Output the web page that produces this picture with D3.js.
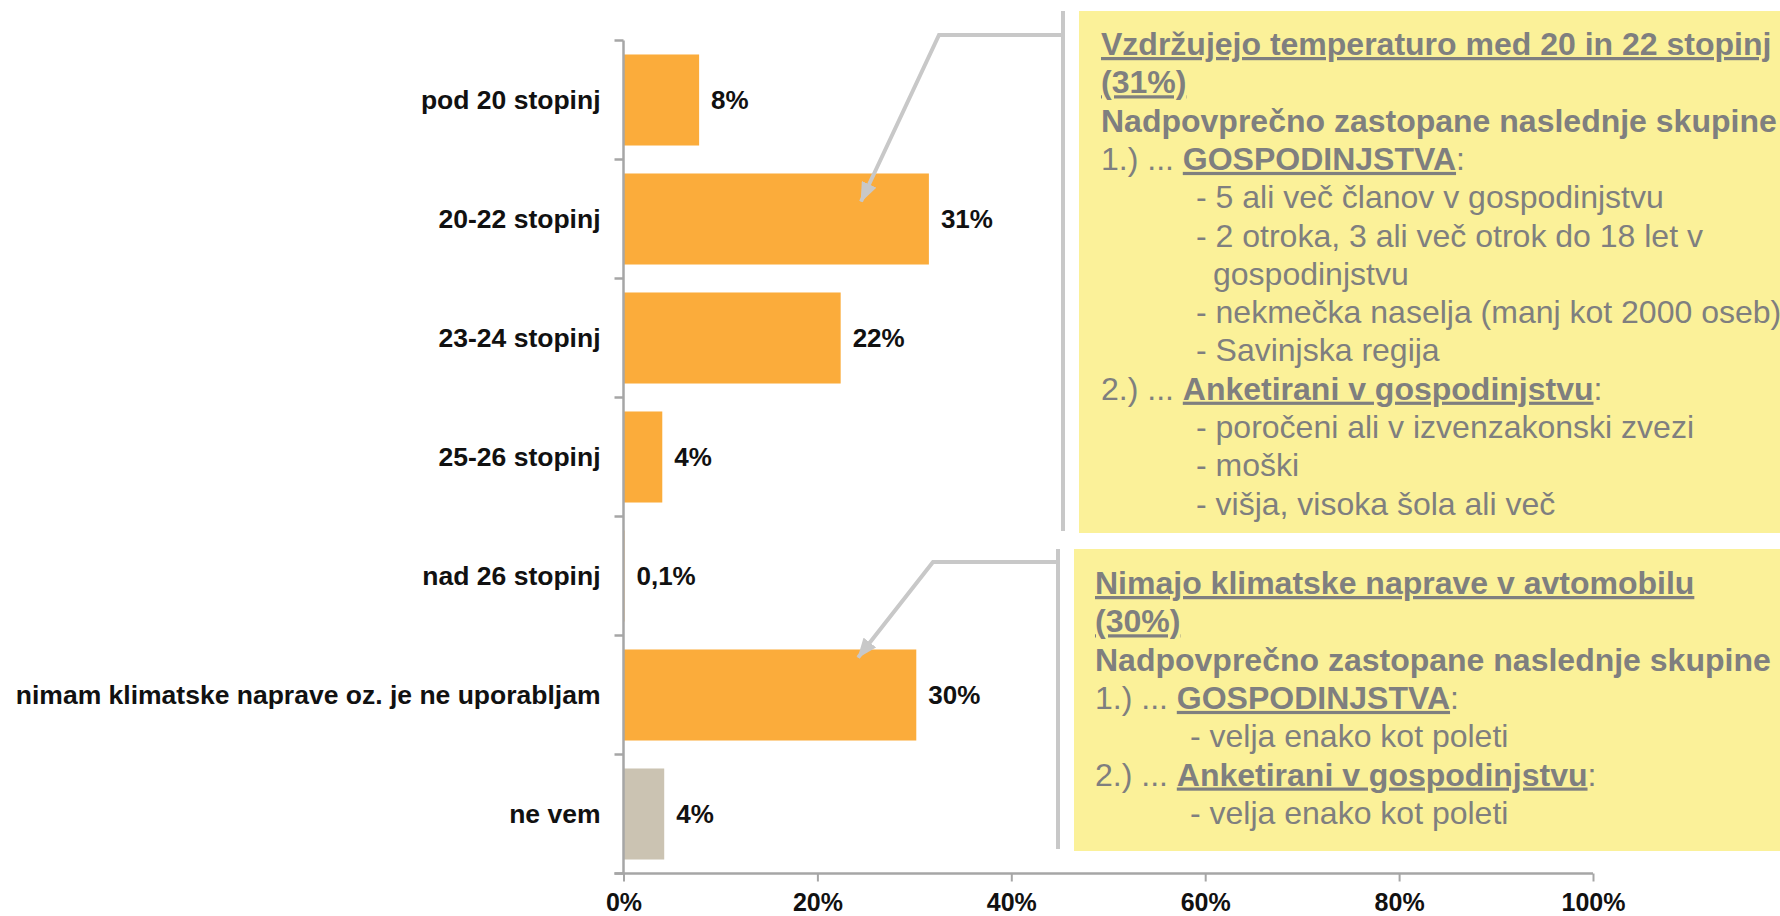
<!DOCTYPE html>
<html>
<head>
<meta charset="utf-8">
<script src="https://cdn.jsdelivr.net/npm/d3@7"></script>
<style>
  body { margin: 0; background: #fff; }
  text { font-family: "Liberation Sans", Arial, sans-serif; }
</style>
</head>
<body>
<script>
// chart data
const categories = ["pod 20 stopinj", "20-22 stopinj", "23-24 stopinj", "25-26 stopinj",
  "nad 26 stopinj", "nimam klimatske naprave oz. je ne uporabljam", "ne vem"];
const values = [7.8, 31.5, 22.4, 4.0, 0.1, 30.2, 4.2];
const valueLabels = ["8%", "31%", "22%", "4%", "0,1%", "30%", "4%"];
const tickValues = [0, 20, 40, 60, 80, 100];
const tickLabels = ["0%", "20%", "40%", "60%", "80%", "100%"];

// callout texts: [segment, kind]  kind: r = regular, b = bold, bu = bold underlined
const upperLines = [
  [0, [["Vzdržujejo temperaturo med 20 in 22 stopinj", "bu"]]],
  [0, [["(31%)", "bu"]]],
  [0, [["Nadpovprečno zastopane naslednje skupine", "b"]]],
  [0, [["1.) ... ", "r"], ["GOSPODINJSTVA", "bu"], [":", "r"]]],
  [1, [["- 5 ali več članov v gospodinjstvu", "r"]]],
  [1, [["- 2 otroka, 3 ali več otrok do 18 let v", "r"]]],
  [2, [["gospodinjstvu", "r"]]],
  [1, [["- nekmečka naselja (manj kot 2000 oseb)", "r"]]],
  [1, [["- Savinjska regija", "r"]]],
  [0, [["2.) ... ", "r"], ["Anketirani v gospodinjstvu", "bu"], [":", "r"]]],
  [1, [["- poročeni ali v izvenzakonski zvezi", "r"]]],
  [1, [["- moški", "r"]]],
  [1, [["- višja, visoka šola ali več", "r"]]]
];
const lowerLines = [
  [0, [["Nimajo klimatske naprave v avtomobilu", "bu"]]],
  [0, [["(30%)", "bu"]]],
  [0, [["Nadpovprečno zastopane naslednje skupine", "b"]]],
  [0, [["1.) ... ", "r"], ["GOSPODINJSTVA", "bu"], [":", "r"]]],
  [1, [["- velja enako kot poleti", "r"]]],
  [0, [["2.) ... ", "r"], ["Anketirani v gospodinjstvu", "bu"], [":", "r"]]],
  [1, [["- velja enako kot poleti", "r"]]]
];

const W = 1780, H = 916;
const axisColor = "#a6a6a6";
const calloutGrey = "#c8c8c8";

const svg = d3.select("body").append("svg")
    .attr("width", W)
    .attr("height", H);

const x = d3.scaleLinear().domain([0, 100]).range([623.5, 1593]);
const y = d3.scaleBand().domain(categories)
    .range([40.5, 873.5])
    .paddingInner(0.235)
    .paddingOuter(0.1175);

// bars
svg.append("g").selectAll("rect")
    .data(categories)
    .join("rect")
    .attr("x", x(0))
    .attr("y", d => y(d))
    .attr("width", (d, i) => x(values[i]) - x(0))
    .attr("height", y.bandwidth())
    .attr("fill", d => d === "ne vem" ? "#cbc3b2" : "#fbac3b");

// y axis line + band boundary ticks
const yAxis = svg.append("g");
yAxis.append("line")
    .attr("x1", x(0)).attr("x2", x(0))
    .attr("y1", y.range()[0]).attr("y2", y.range()[1])
    .attr("stroke", axisColor).attr("stroke-width", 2.5);
yAxis.selectAll("line.tick")
    .data(d3.range(categories.length + 1))
    .join("line")
    .attr("class", "tick")
    .attr("x1", x(0) - 9).attr("x2", x(0))
    .attr("y1", i => y.range()[0] + i * y.step())
    .attr("y2", i => y.range()[0] + i * y.step())
    .attr("stroke", axisColor).attr("stroke-width", 2.5);

// category labels
svg.append("g").selectAll("text")
    .data(categories)
    .join("text")
    .attr("x", x(0) - 23)
    .attr("y", d => y(d) + y.bandwidth() / 2 + 9)
    .attr("text-anchor", "end")
    .attr("font-size", 26.5)
    .attr("font-weight", "bold")
    .attr("fill", "#111")
    .text(d => d);

// value labels
svg.append("g").selectAll("text")
    .data(categories)
    .join("text")
    .attr("x", (d, i) => x(values[i]) + 12)
    .attr("y", d => y(d) + y.bandwidth() / 2 + 9)
    .attr("font-size", 26)
    .attr("font-weight", "bold")
    .attr("fill", "#111")
    .text((d, i) => valueLabels[i]);

// x axis
const xAxis = svg.append("g")
    .attr("transform", "translate(0," + y.range()[1] + ")")
    .call(d3.axisBottom(x)
        .tickValues(tickValues)
        .tickFormat((d, i) => tickLabels[i])
        .tickSize(8)
        .tickSizeOuter(0)
        .tickPadding(12));
xAxis.select(".domain")
    .attr("d", "M" + (x(0) - 9) + ",0H" + x(100))
    .attr("stroke", axisColor).attr("stroke-width", 2.5);
xAxis.selectAll(".tick line").attr("stroke", axisColor).attr("stroke-width", 2);
xAxis.selectAll(".tick text")
    .attr("font-family", "Liberation Sans, Arial, sans-serif")
    .attr("font-size", 25)
    .attr("font-weight", "bold")
    .attr("fill", "#111");

// arrow marker
svg.append("defs").append("marker")
    .attr("id", "arrow")
    .attr("markerUnits", "userSpaceOnUse")
    .attr("viewBox", "0 0 20 16")
    .attr("markerWidth", 20).attr("markerHeight", 16)
    .attr("refX", 19).attr("refY", 8)
    .attr("orient", "auto")
    .append("path")
    .attr("d", "M0,0L20,8L0,16Z")
    .attr("fill", calloutGrey);

// callouts
const callouts = [
  { lines: upperLines, box: [1079, 11, 533], bar: [1063, 11, 531], elbow: [939, 35],
    target: categories[1], targetValue: 24.5, targetDy: 28, textX: 1101, baseline: 55 },
  { lines: lowerLines, box: [1074, 549, 851], bar: [1058, 549, 849], elbow: [933, 562],
    target: categories[5], targetValue: 24.2, targetDy: 8, textX: 1095, baseline: 594 }
];

const lineStep = 38.3;
const indents = [0, 95, 112];

callouts.forEach(c => {
  const g = svg.append("g");
  g.append("rect")
      .attr("x", c.box[0]).attr("y", c.box[1])
      .attr("width", W - c.box[0]).attr("height", c.box[2] - c.box[1])
      .attr("fill", "#fbf199");
  g.append("line")
      .attr("x1", c.bar[0]).attr("x2", c.bar[0])
      .attr("y1", c.bar[1]).attr("y2", c.bar[2])
      .attr("stroke", calloutGrey).attr("stroke-width", 4);
  const tipX = x(c.targetValue);
  const tipY = y(c.target) + c.targetDy;
  g.append("path")
      .attr("d", d3.line()([[c.bar[0], c.elbow[1]], c.elbow, [tipX, tipY]]))
      .attr("fill", "none")
      .attr("stroke", calloutGrey)
      .attr("stroke-width", 4)
      .attr("stroke-linejoin", "miter")
      .attr("marker-end", "url(#arrow)");

  c.lines.forEach(([level, segs], i) => {
    const t = g.append("text")
        .attr("x", c.textX + indents[level])
        .attr("y", c.baseline + i * lineStep)
        .attr("font-size", 32)
        .attr("fill", "#7f7f7f");
    segs.forEach(([s, kind]) => {
      t.append("tspan")
          .attr("font-weight", kind === "r" ? "normal" : "bold")
          .style("text-decoration", kind === "bu" ? "underline" : "none")
          .text(s);
    });
  });
});
</script>
</body>
</html>
